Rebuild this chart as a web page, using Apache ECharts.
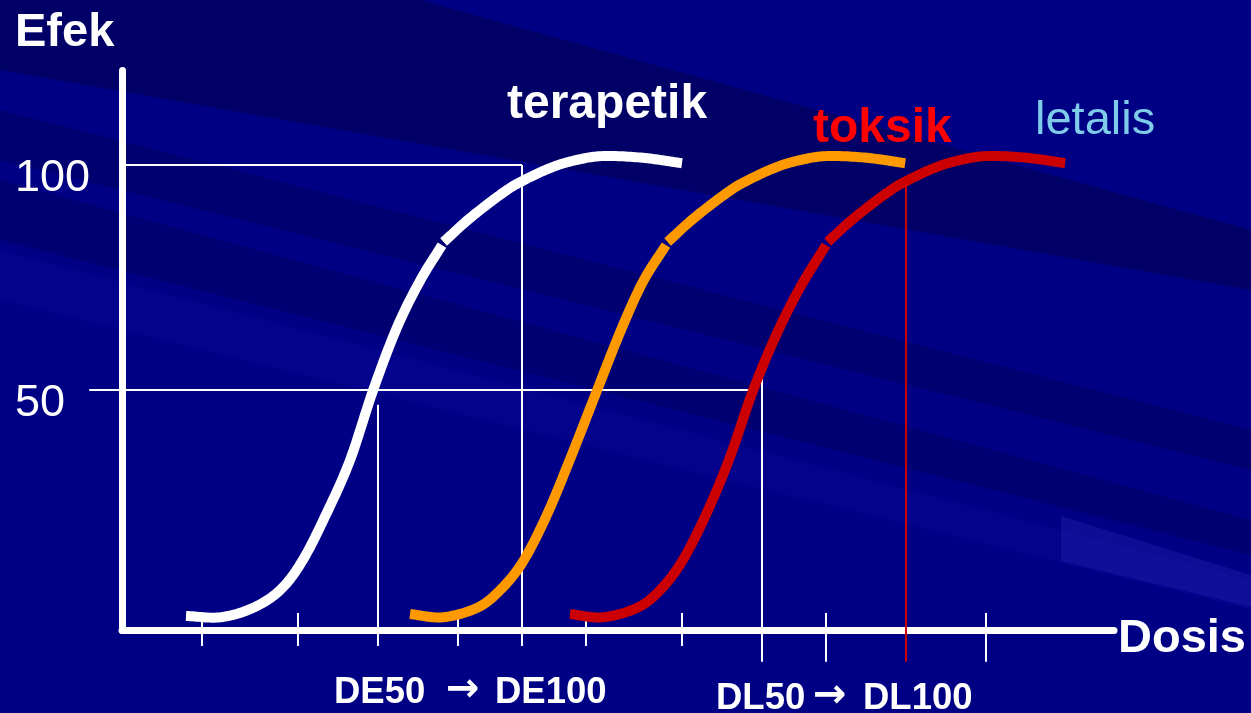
<!DOCTYPE html>
<html>
<head>
<meta charset="utf-8">
<title>Efek - Dosis</title>
<script src="https://cdn.jsdelivr.net/npm/echarts@6/dist/echarts.min.js"></script>
<style>
  html, body { margin: 0; padding: 0; background: #000084; }
  #chart { width: 1251px; height: 713px; }
</style>
</head>
<body>
<div id="chart"></div>
<script>
// Dose-response curves: [dose, effect]. Each curve is drawn as two arcs
// that meet at a visible joint.
const terapetikLow = [[8.0, -0.2], [12.3, -0.5], [16.4, 1.6], [19.8, 5.6], [22.6, 12.2], [25.6, 22.7],
  [28.5, 34.4], [31.4, 50], [34.4, 64], [37.3, 74.4], [40.0, 82.2]];
const terapetikHigh = [[40.2, 82.9], [43.5, 88.2], [47.6, 93.8], [50.0, 96.4], [53.9, 99.6],
  [57.3, 101.3], [60.4, 102], [65.1, 101.6], [70.0, 100.4]];

const toksikLow = [[36.0, 0.2], [40.1, -0.5], [44.4, 1.6], [47.3, 5.6], [50.1, 11.8], [53.1, 22.2],
  [56.0, 34.6], [59.4, 50], [62.3, 63], [65.1, 74], [68.0, 82.2]];
const toksikHigh = [[68.2, 82.9], [71.5, 88.2], [75.6, 93.8], [78.0, 96.4], [81.9, 99.6],
  [85.3, 101.3], [88.4, 102], [93.1, 101.6], [97.9, 100.4]];

const letalisLow = [[56.0, 0.2], [60.1, -0.5], [64.4, 1.6], [67.3, 5.6], [70.1, 12.2], [73.1, 22.7],
  [76.0, 35.1], [78.9, 50], [81.9, 62.7], [84.8, 72.9], [88.0, 82.2]];
const letalisHigh = [[88.2, 82.9], [91.5, 88.2], [95.6, 93.8], [98.0, 96.4], [101.9, 99.6],
  [105.3, 101.3], [108.4, 102], [113.1, 101.6], [117.9, 100.4]];

// Effect levels labelled on the vertical axis
const effectLabels = [50, 100];

// Reading lines [x1, y1, x2, y2]: DE50, DE100, DL50 and the 50 / 100 levels
const guideLines = [
  [-4.1, 50, 78.8, 50],
  [0, 100, 50, 100],
  [32, 46.7, 32, -6.9],
  [50, 100, 50, -6.9],
  [80, 53.7, 80, -10.4]
];
// DL100 reading line
const dl100Line = [[98, 95.6, 98, -10.4]];

// Dose tick marks crossing the horizontal axis
const shortTicks = [10, 22, 42, 58, 70];
const longTicks = [88, 108];
const tickSegments = shortTicks.map(d => [d, 0.45, d, -6.9])
  .concat(longTicks.map(d => [d, 0.45, d, -10.4]));

const chart = echarts.init(document.getElementById('chart'), null, { renderer: 'canvas' });

const FONT = "'Liberation Sans', Arial, sans-serif";
const ARROW_FONT = "'DejaVu Sans', sans-serif";

function segmentSeries(name, data, color, width) {
  return {
    name: name,
    type: 'custom',
    z: 1,
    silent: true,
    clip: false,
    encode: { x: [0, 2], y: [1, 3] },
    data: data,
    renderItem: function (params, api) {
      const p1 = api.coord([api.value(0), api.value(1)]);
      const p2 = api.coord([api.value(2), api.value(3)]);
      return {
        type: 'line',
        shape: { x1: p1[0], y1: p1[1], x2: p2[0], y2: p2[1] },
        style: { stroke: color, lineWidth: width }
      };
    }
  };
}

// Effect-level labels, left-aligned at the page margin, just under their level
const effectLabelSeries = {
  name: 'effect labels',
  type: 'custom',
  z: 5,
  silent: true,
  clip: false,
  encode: { y: 0 },
  data: effectLabels.map(v => [v]),
  renderItem: function (params, api) {
    const p = api.coord([0, api.value(0)]);
    return {
      type: 'text',
      x: p[0] - 107,
      y: p[1] - 8.5,
      style: {
        text: String(api.value(0)), fill: '#ffffff', fontSize: 45,
        fontFamily: FONT, align: 'left', verticalAlign: 'top'
      }
    };
  }
};

// Catmull-Rom spline through the projected points of one arc
function splinePoints(pts) {
  const n = pts.length;
  const out = [pts[0]];
  const get = i => {
    if (i < 0) return [2 * pts[0][0] - pts[1][0], 2 * pts[0][1] - pts[1][1]];
    if (i >= n) return [2 * pts[n - 1][0] - pts[n - 2][0], 2 * pts[n - 1][1] - pts[n - 2][1]];
    return pts[i];
  };
  const STEPS = 16;
  for (let i = 0; i < n - 1; i++) {
    const p0 = get(i - 1), p1 = get(i), p2 = get(i + 1), p3 = get(i + 2);
    for (let s = 1; s <= STEPS; s++) {
      const t = s / STEPS, t2 = t * t, t3 = t2 * t;
      const f = k => 0.5 * ((2 * p1[k]) + (-p0[k] + p2[k]) * t +
        (2 * p0[k] - 5 * p1[k] + 4 * p2[k] - p3[k]) * t2 +
        (-p0[k] + 3 * p1[k] - 3 * p2[k] + p3[k]) * t3);
      out.push([f(0), f(1)]);
    }
  }
  return out;
}

function curveSeries(name, data, color) {
  return {
    name: name,
    type: 'custom',
    z: 3,
    silent: true,
    clip: false,
    encode: { x: 0, y: 1 },
    data: data,
    renderItem: function (params, api) {
      if (params.dataIndex !== 0) return null;
      const projected = data.map(d => api.coord(d));
      return {
        type: 'polyline',
        shape: { points: splinePoints(projected) },
        style: { stroke: color, lineWidth: 10, fill: null, lineCap: 'butt', lineJoin: 'round' }
      };
    }
  };
}

function label(text, left, top, size, weight, color, family) {
  return {
    type: 'text', left: left, top: top, z: 20, silent: true,
    style: { text: text, fill: color, fontSize: size, fontWeight: weight, fontFamily: family || FONT }
  };
}

// Diagonal background bands
function band(points, color) {
  return { type: 'polygon', z: -50, silent: true, shape: { points: points }, style: { fill: color } };
}

const option = {
  backgroundColor: '#000084',
  animation: false,
  grid: { left: 122, right: 137, top: 70.5, bottom: 82.7, containLabel: false },
  xAxis: {
    type: 'value', min: 0, max: 124,
    axisLine: { show: true, onZero: false, lineStyle: { color: '#ffffff', width: 7 } },
    axisTick: { show: false }, axisLabel: { show: false }, splitLine: { show: false }
  },
  yAxis: {
    type: 'value', min: -3.4, max: 121,
    axisLine: { show: true, onZero: false, lineStyle: { color: '#ffffff', width: 7 } },
    axisTick: { show: false }, splitLine: { show: false }, axisLabel: { show: false }
  },
  graphic: [
    band([[0, 0], [420, 0], [1251, 230], [1251, 290], [0, 70]], 'rgba(0,0,50,0.35)'),
    band([[0, 110], [1251, 430], [1251, 470], [0, 160]], 'rgba(0,0,50,0.25)'),
    band([[0, 180], [1251, 520], [1251, 555], [0, 240]], 'rgba(0,0,50,0.2)'),
    band([[0, 250], [1251, 580], [1251, 610], [0, 300]], 'rgba(30,30,210,0.10)'),
    band([[1061, 516], [1251, 575], [1251, 607], [1061, 561]], 'rgba(50,50,200,0.25)'),
    label('Efek', 15, 10, 47, 'bold', '#ffffff'),
    label('terapetik', 507, 81, 48, 'bold', '#ffffff'),
    label('toksik', 813, 105, 48, 'bold', '#ff0000'),
    label('letalis', 1035, 98, 47, 'normal', '#7fcbea'),
    label('Dosis', 1118, 616, 47, 'bold', '#ffffff'),
    label('DE50', 334, 674, 36.5, 'bold', '#ffffff'),
    label('\u2192', 446, 671, 40, 'bold', '#ffffff', ARROW_FONT),
    label('DE100', 495, 674, 36.5, 'bold', '#ffffff'),
    label('DL50', 716, 680, 36.5, 'bold', '#ffffff'),
    label('\u2192', 813, 677, 40, 'bold', '#ffffff', ARROW_FONT),
    label('DL100', 863, 680, 36.5, 'bold', '#ffffff')
  ],
  series: [
    segmentSeries('guides', guideLines, '#ffffff', 2),
    segmentSeries('DL100', dl100Line, '#cc0000', 2),
    segmentSeries('ticks', tickSegments, '#ffffff', 2),
    effectLabelSeries,
    curveSeries('terapetik', terapetikLow, '#ffffff'),
    curveSeries('terapetik', terapetikHigh, '#ffffff'),
    curveSeries('toksik', toksikLow, '#ff9900'),
    curveSeries('toksik', toksikHigh, '#ff9900'),
    curveSeries('letalis', letalisLow, '#cc0000'),
    curveSeries('letalis', letalisHigh, '#cc0000')
  ]
};

chart.setOption(option);
</script>
</body>
</html>
